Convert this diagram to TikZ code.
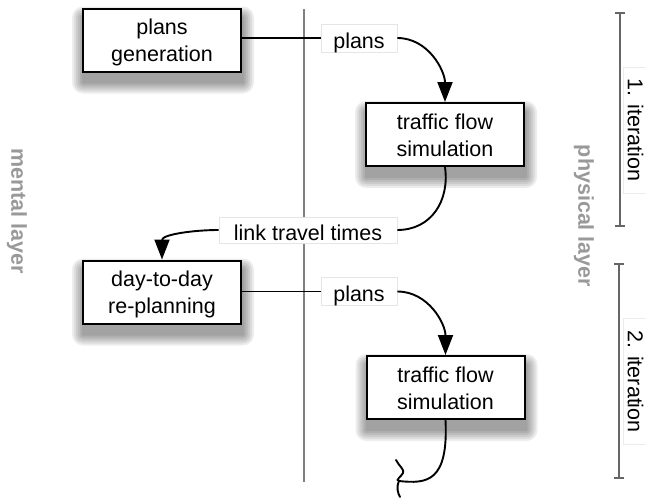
\documentclass[tikz,border=0pt]{standalone}
\usepackage{fontspec}
\setmainfont{Liberation Sans}
\usetikzlibrary{arrows.meta}
\pgfdeclarelayer{back}
\pgfdeclarelayer{shade}
\pgfsetlayers{back,shade,main}
\tikzset{
  box/.style={draw=black, line width=2pt, fill=white, minimum width=158pt, minimum height=63pt,
    align=center, inner sep=0pt, text height=48.4pt, text depth=4.5pt,
    font=\fontsize{21.5}{27}\selectfont},
  shadowpart/.style={fill=black, opacity=0.07},
  lab/.style={draw=gray!20, line width=0.6pt, fill=white, inner sep=0pt, minimum height=28pt,
    text height=20pt, text depth=0pt, font=\fontsize{21.5}{26}\selectfont},
  conn/.style={line width=1.9pt, draw=black},
  arr/.style={conn, -{Triangle[length=20pt,width=15pt]}},
  layer/.style={rotate=-90, text=black!40, font=\bfseries\fontsize{21.5}{26}\selectfont},
  iter/.style={rotate=-90, fill=white, draw=gray!15, line width=0.6pt, minimum width=126pt, minimum height=25pt,
    inner sep=0pt, font=\fontsize{21.5}{26}\selectfont},
  bracket/.style={draw=black!60, line width=1.3pt},
  divider/.style={draw=black!50, line width=1.1pt}
}
\newcommand\shadowbehind[1]{%
  \begin{pgfonlayer}{shade}
    \foreach \e in {1,3,5,7,9,11}{
      \fill[shadowpart, rounded corners=\e pt]
        ([shift={(1-\e,10-\e)}]#1.north west) rectangle ([shift={(1+\e,10+\e)}]#1.south east);
    }
  \end{pgfonlayer}}
\begin{document}
\begin{tikzpicture}[x=1pt,y=-1pt]
\useasboundingbox (0,0) rectangle (646,498);
\begin{pgfonlayer}{back}
\fill[white] (0,0) rectangle (646,498);
\end{pgfonlayer}

% divider between layers
\coordinate (dtop) at (304,9);
\coordinate (dbot) at (304,482);
\draw[divider] (dtop) -- (dbot);

% layer names
\node[layer] (mental) at (17,211) {mental layer};
\node[layer] (physical) at (584,216) {physical layer};

% iteration brackets
\coordinate (b1t) at (620,13);
\coordinate (b1b) at (620,226);
\draw[bracket] (b1t) -- (b1b);
\draw[bracket] ([xshift=-5pt]b1t) -- ([xshift=5pt]b1t);
\draw[bracket] ([xshift=-5pt]b1b) -- ([xshift=5pt]b1b);
\node[iter] (it1) at (635.5,130) {1. iteration};

\coordinate (b2t) at (619,264);
\coordinate (b2b) at (619,478);
\draw[bracket] (b2t) -- (b2b);
\draw[bracket] ([xshift=-5pt]b2t) -- ([xshift=5pt]b2t);
\draw[bracket] ([xshift=-5pt]b2b) -- ([xshift=5pt]b2b);
\node[iter] (it2) at (635.5,381.5) {2. iteration};

% boxes
\node[box] (pg)  at (162,40)    {plans\\generation};
\node[box] (tf1) at (445,134.5) {traffic flow\\simulation};
\node[box] (dd)  at (162,292)   {day-to-day\\re-planning};
\node[box] (tf2) at (445.5,387.5) {traffic flow\\simulation};
\shadowbehind{pg}
\shadowbehind{tf1}
\shadowbehind{dd}
\shadowbehind{tf2}

% labels on connectors
\node[lab, minimum width=76pt] (pl1) at (359,38) {plans};
\node[lab, minimum width=178pt, minimum height=26pt] (ltt) at (308,230) {link travel times};
\node[lab, minimum width=76pt] (pl2) at (359,291.5) {plans};

% connectors
\draw[conn] (pg.east |- pl1.west) -- (pl1.west);
\draw[arr] (pl1.east) to[out=0,in=90] (tf1.north);
\draw[conn] (tf1.south) to[out=-82,in=0,looseness=1.1] (ltt.east);
\draw[arr] (ltt.west) to[out=180,in=90] (dd.north);
\draw[conn] (dd.east |- pl2.west) -- (pl2.west);
\draw[arr] (pl2.east) to[out=0,in=90] (tf2.north);

% open end of the second iteration
\coordinate (endc) at (399,481);
\coordinate (sq1) at (396,460);
\coordinate (sq2) at (403,473);
\coordinate (sq3) at (400,497);
\draw[conn] (tf2.south) .. controls +(3,62) and +(28,3) .. (endc);
\draw[conn, line cap=round] (sq1) .. controls (399,466) and (405,470) .. (sq2)
  .. controls (401,477) and (395,480) .. (endc)
  .. controls (396,488) and (398,493) .. (sq3);
\end{tikzpicture}
\end{document}
